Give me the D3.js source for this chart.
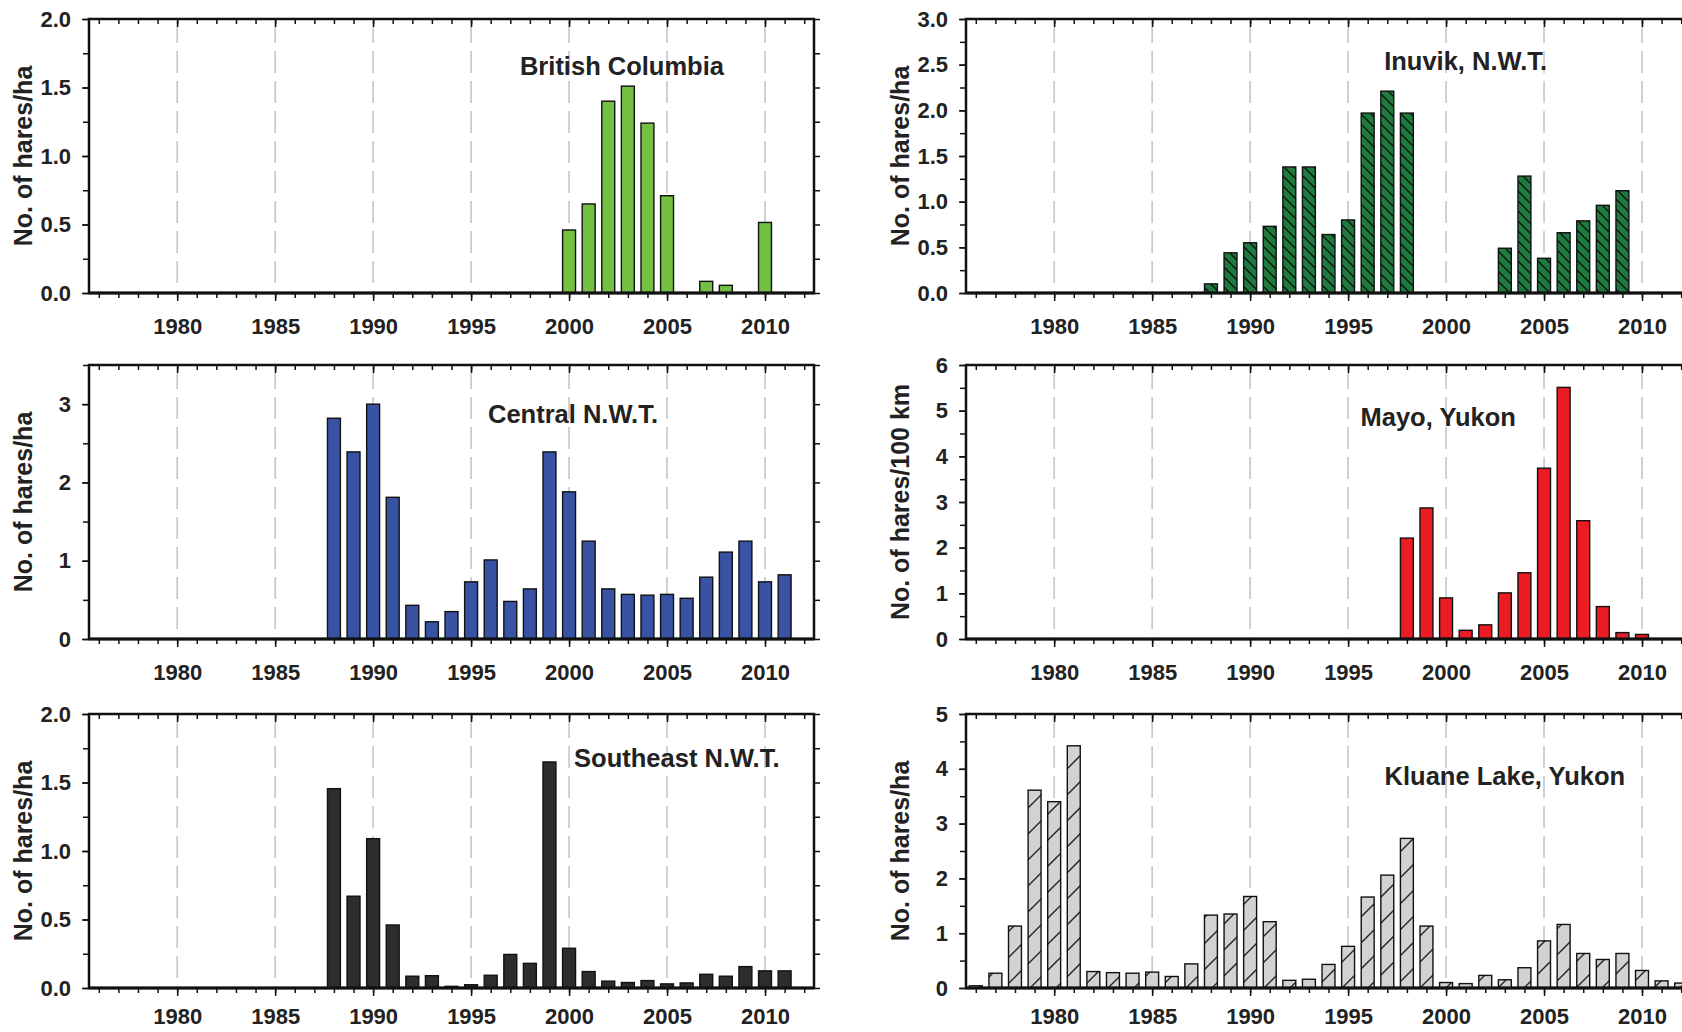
<!DOCTYPE html>
<html>
<head>
<meta charset="utf-8">
<script src="https://cdn.jsdelivr.net/npm/d3@7"></script>
<style>
  body { margin: 0; background: #fff; overflow: hidden; }
  svg { display: block; }
  text { font-family: "Liberation Sans", Arial, sans-serif; font-weight: bold; fill: #222; }
</style>
</head>
<body>
<div id="chart"></div>
<script>
// ---- data (hares per ha / per 100 km) ----
var bcYears = [2000, 2001, 2002, 2003, 2004, 2005, 2007, 2008, 2010];
var bcValues = [0.46, 0.65, 1.40, 1.51, 1.24, 0.71, 0.085, 0.056, 0.515];

var centralYears = [1988, 1989, 1990, 1991, 1992, 1993, 1994, 1995, 1996, 1997, 1998, 1999,
    2000, 2001, 2002, 2003, 2004, 2005, 2006, 2007, 2008, 2009, 2010, 2011];
var centralValues = [2.82, 2.39, 3.00, 1.81, 0.43, 0.22, 0.35, 0.73, 1.01, 0.48, 0.64, 2.39,
    1.88, 1.25, 0.64, 0.57, 0.56, 0.57, 0.52, 0.79, 1.11, 1.25, 0.73, 0.82];

var southeastYears = [1988, 1989, 1990, 1991, 1992, 1993, 1994, 1995, 1996, 1997, 1998, 1999,
    2000, 2001, 2002, 2003, 2004, 2005, 2006, 2007, 2008, 2009, 2010, 2011];
var southeastValues = [1.455, 0.67, 1.09, 0.46, 0.086, 0.09, 0.012, 0.024, 0.093, 0.245, 0.18, 1.65,
    0.29, 0.12, 0.05, 0.04, 0.054, 0.03, 0.037, 0.10, 0.086, 0.156, 0.125, 0.125];

var inuvikYears = [1988, 1989, 1990, 1991, 1992, 1993, 1994, 1995, 1996, 1997, 1998,
    2003, 2004, 2005, 2006, 2007, 2008, 2009];
var inuvikValues = [0.10, 0.44, 0.55, 0.73, 1.38, 1.38, 0.64, 0.80, 1.97, 2.21, 1.97,
    0.49, 1.28, 0.38, 0.66, 0.79, 0.96, 1.12];

var mayoYears = [1998, 1999, 2000, 2001, 2002, 2003, 2004, 2005, 2006, 2007, 2008, 2009, 2010];
var mayoValues = [2.21, 2.87, 0.90, 0.19, 0.31, 1.01, 1.45, 3.74, 5.51, 2.59, 0.71, 0.14, 0.10];

var kluaneYears = [1976, 1977, 1978, 1979, 1980, 1981, 1982, 1983, 1984, 1985, 1986, 1987,
    1988, 1989, 1990, 1991, 1992, 1993, 1994, 1995, 1996, 1997, 1998, 1999,
    2000, 2001, 2002, 2003, 2004, 2005, 2006, 2007, 2008, 2009, 2010, 2011, 2012];
var kluaneValues = [0.04, 0.27, 1.13, 3.61, 3.40, 4.42, 0.30, 0.28, 0.27, 0.29, 0.21, 0.44,
    1.33, 1.35, 1.67, 1.21, 0.14, 0.16, 0.43, 0.76, 1.66, 2.06, 2.73, 1.13,
    0.10, 0.08, 0.23, 0.15, 0.37, 0.86, 1.16, 0.63, 0.52, 0.63, 0.32, 0.13, 0.09];

var yearLabels = [1980, 1985, 1990, 1995, 2000, 2005, 2010];
var yearDomain = [1975.5, 2012.5];

// ---- layout ----
var width = 1682, height = 1032;
var panelW = 725, panelH = 274;
var colLeft = [89, 966];
var rowTop = [19, 365, 714];
var rowPad = [17, 17, 12];   // bottom row sits against the page edge

var panels = [
    { col: 0, row: 0, years: bcYears, values: bcValues, yMax: 2, yStep: 0.5, yMinor: 0.25, fmt: ".1f",
      fill: "#74c043", title: "British Columbia", tx: 2002.7, ty: 1.59, label: "No. of hares/ha" },
    { col: 0, row: 1, years: centralYears, values: centralValues, yMax: 3.5, yStep: 1, yMinor: 0.5, fmt: "d",
      fill: "#3853a4", title: "Central N.W.T.", tx: 2000.2, ty: 2.76, label: "No. of hares/ha" },
    { col: 0, row: 2, years: southeastYears, values: southeastValues, yMax: 2, yStep: 0.5, yMinor: 0.25, fmt: ".1f",
      fill: "#2d2d2d", title: "Southeast N.W.T.", tx: 2005.5, ty: 1.61, label: "No. of hares/ha" },
    { col: 1, row: 0, years: inuvikYears, values: inuvikValues, yMax: 3, yStep: 0.5, yMinor: 0.25, fmt: ".1f",
      fill: "url(#hatchBack)", title: "Inuvik, N.W.T.", tx: 2001.0, ty: 2.44, label: "No. of hares/ha" },
    { col: 1, row: 1, years: mayoYears, values: mayoValues, yMax: 6, yStep: 1, yMinor: 0.5, fmt: "d",
      fill: "#ec1c24", title: "Mayo, Yukon", tx: 1999.6, ty: 4.66, label: "No. of hares/100 km" },
    { col: 1, row: 2, years: kluaneYears, values: kluaneValues, yMax: 5, yStep: 1, yMinor: 0.5, fmt: "d",
      fill: "url(#hatchFwd)", title: "Kluane Lake, Yukon", tx: 2003.0, ty: 3.70, label: "No. of hares/ha" }
];

var svg = d3.select("#chart").append("svg")
    .attr("width", width)
    .attr("height", height);

var defs = svg.append("defs");

// dark green with "\" hatching (Inuvik)
var pb = defs.append("pattern").attr("id", "hatchBack")
    .attr("patternUnits", "userSpaceOnUse").attr("width", 10).attr("height", 10);
pb.append("rect").attr("width", 10).attr("height", 10).attr("fill", "#1e7b3e");
pb.append("path").attr("d", "M-5,5 L5,15 M0,0 L10,10 M5,-5 L15,5")
    .attr("stroke", "#111").attr("stroke-width", 1.4);

// light grey with sparse "/" hatching (Kluane)
var pf = defs.append("pattern").attr("id", "hatchFwd")
    .attr("patternUnits", "userSpaceOnUse").attr("width", 26).attr("height", 26);
pf.append("rect").attr("width", 26).attr("height", 26).attr("fill", "#d2d2d2");
pf.append("path").attr("d", "M-13,13 L13,-13 M0,26 L26,0 M13,39 L39,13")
    .attr("stroke", "#222").attr("stroke-width", 1.4);

panels.forEach(function (p) {
    var g = svg.append("g")
        .attr("transform", "translate(" + colLeft[p.col] + "," + rowTop[p.row] + ")");

    var x = d3.scaleLinear().domain(yearDomain).range([0, panelW]);
    var y = d3.scaleLinear().domain([0, p.yMax]).range([panelH, 0]);

    // dashed vertical grid
    g.selectAll(".grid").data(yearLabels).enter().append("line")
        .attr("x1", function (d) { return x(d); })
        .attr("x2", function (d) { return x(d); })
        .attr("y1", 2).attr("y2", panelH)
        .attr("stroke", "#c6c6c6")
        .attr("stroke-width", 1.6)
        .attr("stroke-dasharray", "22,8");

    // bars
    var bw = x(1976.33) - x(1975.67);
    var rows = p.years.map(function (yr, i) { return { year: yr, value: p.values[i] }; });
    g.selectAll(".bar").data(rows).enter().append("rect")
        .attr("x", function (d) { return x(d.year) - bw / 2; })
        .attr("y", function (d) { return y(d.value); })
        .attr("width", bw)
        .attr("height", function (d) { return panelH - y(d.value); })
        .attr("fill", p.fill)
        .attr("stroke", "#111")
        .attr("stroke-width", 1.4);

    var minorYears = d3.range(1976, 2013);
    var yMajor = d3.range(0, p.yMax + 1e-9, p.yStep);
    var yMinorTicks = d3.range(0, p.yMax + 1e-9, p.yMinor);

    // bottom axis: yearly minor ticks, labelled majors
    var bMinor = g.append("g").attr("transform", "translate(0," + panelH + ")")
        .call(d3.axisBottom(x).tickValues(minorYears).tickSize(5).tickFormat(""));
    var bMajor = g.append("g").attr("transform", "translate(0," + panelH + ")")
        .call(d3.axisBottom(x).tickValues(yearLabels).tickSize(8).tickPadding(rowPad[p.row])
            .tickFormat(d3.format("d")));

    // top axis: ticks inside
    var tMinor = g.append("g").call(d3.axisTop(x).tickValues(minorYears).tickSize(-5).tickFormat(""));
    var tMajor = g.append("g").call(d3.axisTop(x).tickValues(yearLabels).tickSize(-8).tickFormat(""));

    // left axis with labels
    var lMinor = g.append("g").call(d3.axisLeft(y).tickValues(yMinorTicks).tickSize(6).tickFormat(""));
    var lMajor = g.append("g").call(d3.axisLeft(y).tickValues(yMajor).tickSize(7).tickPadding(11)
        .tickFormat(d3.format(p.fmt)));

    // right axis, ticks only
    var rMinor = g.append("g").attr("transform", "translate(" + panelW + ",0)")
        .call(d3.axisRight(y).tickValues(yMinorTicks).tickSize(6).tickFormat(""));

    [bMinor, bMajor, tMinor, tMajor, lMinor, lMajor, rMinor].forEach(function (a) {
        a.select(".domain").remove();
        a.selectAll(".tick line").attr("stroke", "#111").attr("stroke-width", 1.5);
        a.selectAll("text").attr("font-size", 22).attr("fill", "#222");
    });

    // frame
    g.append("rect")
        .attr("x", 0).attr("y", 0)
        .attr("width", panelW).attr("height", panelH)
        .attr("fill", "none")
        .attr("stroke", "#111")
        .attr("stroke-width", 2.5);
    g.append("line")
        .attr("x1", 0).attr("x2", panelW)
        .attr("y1", y(0)).attr("y2", y(0))
        .attr("stroke", "#111")
        .attr("stroke-width", 3);

    // panel title
    g.append("text")
        .attr("x", x(p.tx))
        .attr("y", y(p.ty))
        .attr("text-anchor", "middle")
        .attr("font-size", 25.5)
        .text(p.title);

    // y axis title
    g.append("text")
        .attr("transform", "translate(" + (-57) + "," + (panelH / 2) + ") rotate(-90)")
        .attr("text-anchor", "middle")
        .attr("font-size", 25)
        .text(p.label);
});
</script>
</body>
</html>
